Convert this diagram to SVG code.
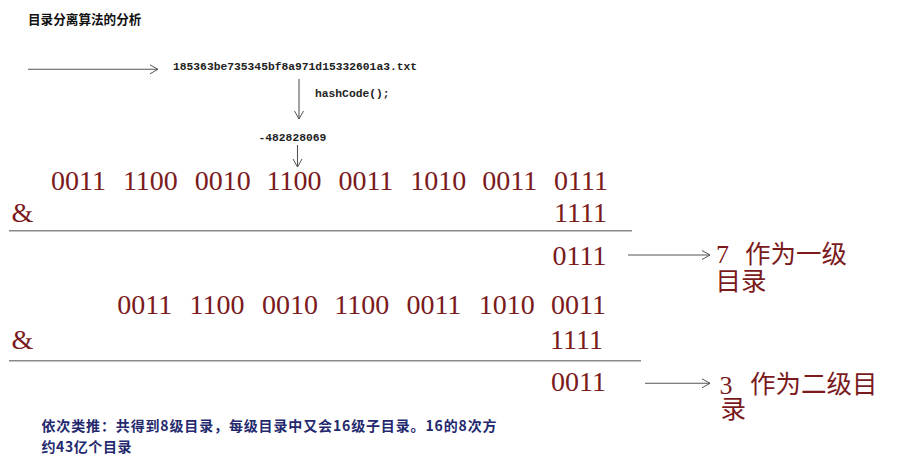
<svg xmlns="http://www.w3.org/2000/svg" width="907" height="461" viewBox="0 0 907 461">
<defs>
<marker id="chev" markerUnits="userSpaceOnUse" markerWidth="10" markerHeight="12" refX="8" refY="5" orient="auto">
<path d="M0,0.5 L8,5 L0,9.5" fill="none" stroke="#555" stroke-width="1"/>
</marker>
<style>
.conn{stroke:#555;stroke-width:1.1;fill:none;marker-end:url(#chev)}
.rule{stroke:#8a8a8a;stroke-width:1.6}
.mono{font-family:"Liberation Mono","DejaVu Sans Mono",monospace;font-size:11.3px;font-weight:bold;fill:#222}
.bin{font-family:"Liberation Serif","Noto Sans CJK SC",serif;font-size:28px;fill:#7a1a1c}
.lbl{font-family:"Liberation Serif","Noto Sans CJK SC",serif;font-size:26px;fill:#7a1a1c}
.cjk{font-family:"Noto Sans CJK SC",sans-serif;font-size:25.5px}
.title{font-family:"Noto Sans CJK SC",sans-serif;font-size:12.6px;font-weight:bold;fill:#111}
.note{font-family:"Noto Sans CJK SC",sans-serif;font-size:14px;font-weight:bold;fill:#24296e}
</style>
</defs>
<rect width="907" height="461" fill="#ffffff"/>

<g id="title"><text class="title" x="28" y="24">目录分离算法的分析</text></g>

<g id="filename"><text class="mono" x="173" y="69.5">185363be735345bf8a971d15332601a3.txt</text></g>
<g id="hashcode"><text class="mono" x="315" y="97">hashCode();</text></g>
<g id="number"><text class="mono" x="258.5" y="141">-482828069</text></g>

<g id="block1">
<text class="bin" y="189.5"><tspan x="51">0011</tspan><tspan x="122.9">1100</tspan><tspan x="194.7">0010</tspan><tspan x="266.6">1100</tspan><tspan x="338.4">0011</tspan><tspan x="410.3">1010</tspan><tspan x="482.2">0011</tspan><tspan x="554">0111</tspan></text>
<text class="bin" x="11.5" y="222">&amp;</text>
<text class="bin" x="554" y="222">1111</text>
<line class="rule" x1="9" y1="230.7" x2="632" y2="230.7"/>
<text class="bin" x="552.5" y="265">0111</text>
</g>

<g id="block2">
<text class="bin" y="314"><tspan x="117.3">0011</tspan><tspan x="189.6">1100</tspan><tspan x="261.9">0010</tspan><tspan x="334.2">1100</tspan><tspan x="406.4">0011</tspan><tspan x="478.7">1010</tspan><tspan x="551">0011</tspan></text>
<text class="bin" x="11.5" y="348.5">&amp;</text>
<text class="bin" x="550" y="348.5">1111</text>
<line class="rule" x1="9" y1="360.7" x2="641" y2="360.7"/>
<text class="bin" x="551" y="391">0011</text>
</g>

<g id="label1">
<text class="lbl"><tspan x="716" y="263">7</tspan><tspan class="cjk" x="745" y="263">作为一级</tspan><tspan class="cjk" x="715.5" y="289.5">目录</tspan></text>
</g>

<g id="label2">
<text class="lbl"><tspan x="719.5" y="393.5">3</tspan><tspan class="cjk" x="750" y="393">作为二级目</tspan><tspan class="cjk" x="720.5" y="418">录</tspan></text>
</g>

<g id="note">
<text class="note" x="41.5" y="431" textLength="455" lengthAdjust="spacing">依次类推：共得到8级目录，每级目录中又会16级子目录。16的8次方</text>
<text class="note" x="41.5" y="452" textLength="90" lengthAdjust="spacing">约43亿个目录</text>
</g>

<g id="connectors">
<line class="conn" x1="28" y1="69.3" x2="158" y2="69.3"/>
<line class="conn" x1="299" y1="79" x2="299" y2="119"/>
<line class="conn" x1="297.5" y1="145" x2="297.5" y2="167"/>
<line class="conn" x1="628" y1="255" x2="710" y2="255"/>
<line class="conn" x1="645" y1="383.3" x2="710" y2="383.3"/>
</g>
</svg>
